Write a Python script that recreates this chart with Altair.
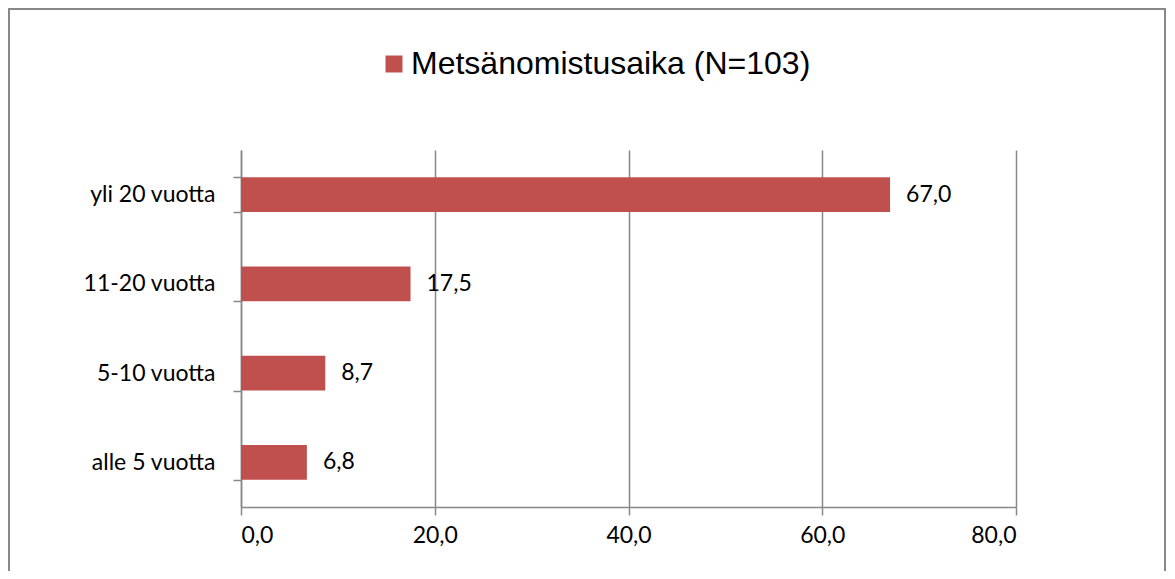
import altair as alt
import pandas as pd

categories = ["yli 20 vuotta", "11-20 vuotta", "5-10 vuotta", "alle 5 vuotta"]
values = [67.0, 17.5, 8.7, 6.8]
series_name = "Metsänomistusaika (N=103)"
x_ticks = [0, 20, 40, 60, 80]

df = pd.DataFrame({"cat": categories, "val": values, "series": [series_name] * len(categories)})

BAR = "#C0504D"
GRAY = "#888888"
LABEL_FONT = "Lato"
FS = 23

comma = "replace(format(datum.value, '.1f'), '.', ',')"

x_enc = alt.X(
    "val:Q",
    scale=alt.Scale(domain=[0, 80], nice=False),
    axis=alt.Axis(
        values=x_ticks, labelExpr=comma, title=None, grid=True,
        gridColor=GRAY, gridWidth=1.5, domainColor=GRAY, domainWidth=1.5,
        tickColor=GRAY, tickWidth=1.5, tickSize=8, labelPadding=9,
        labelFont=LABEL_FONT, labelFontSize=FS, labelColor="#000000",
    ),
)
y_enc = alt.Y(
    "cat:N", sort=categories,
    scale=alt.Scale(paddingInner=0.61, paddingOuter=0.305),
    axis=alt.Axis(
        title=None, tickBand="extent", domainColor=GRAY, domainWidth=1.5,
        tickColor=GRAY, tickWidth=1.5, tickSize=8, labelPadding=18,
        labelFont=LABEL_FONT, labelFontSize=FS, labelColor="#000000",
    ),
)

border = alt.Chart(pd.DataFrame({"k": [0]})).mark_rect(
    fill="transparent", stroke=GRAY, strokeWidth=2
).encode(
    x=alt.value(-232), x2=alt.value(924), y=alt.value(-141), y2=alt.value(480)
)

bars = alt.Chart(df).mark_bar().encode(
    x=x_enc, y=y_enc,
    color=alt.Color(
        "series:N", scale=alt.Scale(range=[BAR]),
        legend=alt.Legend(
            title=None, orient="none", legendX=137, legendY=-102, padding=0,
            symbolType="square", symbolSize=289, symbolStrokeWidth=0,
            symbolOpacity=1, labelFont="Liberation Sans", labelFontSize=32,
            labelColor="#000000", labelOffset=1, labelLimit=700,
        ),
    ),
)

labels = alt.Chart(df).mark_text(
    align="left", baseline="middle", dx=16, font=LABEL_FONT, fontSize=FS, color="#000000"
).encode(
    x="val:Q", y=alt.Y("cat:N", sort=categories),
    text=alt.Text("label:N"),
).transform_calculate(label="replace(format(datum.val, '.1f'), '.', ',')")

chart = alt.layer(border, bars, labels).properties(
    width=775, height=357,
    autosize=alt.AutoSizeParams(type="none"),
    padding={"left": 233, "top": 142, "right": 151, "bottom": 64},
    background="white",
).configure_view(stroke=None)

chart.save("out.html", embed_options={"renderer": "svg", "actions": False})
